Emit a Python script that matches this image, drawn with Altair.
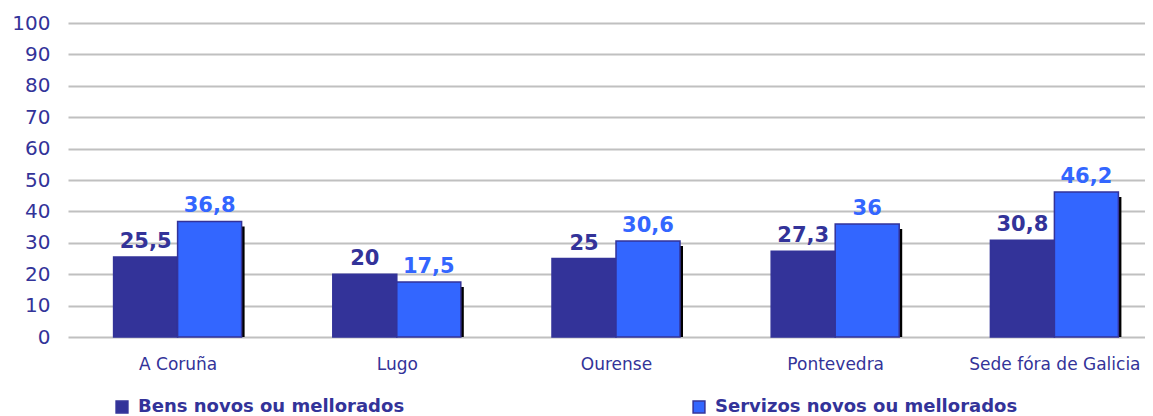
import altair as alt
import pandas as pd

cities = ["A Coruña", "Lugo", "Ourense", "Pontevedra", "Sede fóra de Galicia"]
series = ["Bens novos ou mellorados", "Servizos novos ou mellorados"]
bens = [25.5, 20, 25, 27.3, 30.8]
servizos = [36.8, 17.5, 30.6, 36, 46.2]
y_ticks = [0, 10, 20, 30, 40, 50, 60, 70, 80, 90, 100]
city_pos = [0.5, 1.5, 2.5, 3.5, 4.5]
bar_w = 0.292

DARK = "#333399"
BLUE = "#3366FF"

rows = []
for i, c in enumerate(cities):
    for j, (s, vals) in enumerate(zip(series, [bens, servizos])):
        v = vals[i]
        x0 = city_pos[i] - bar_w + j * bar_w
        rows.append({"city": c, "series": s, "value": v,
                     "x0": x0, "x1": x0 + bar_w, "xc": x0 + bar_w / 2,
                     "label": (f"{v:g}").replace(".", ",")})
df = pd.DataFrame(rows)

label_expr = " : ".join(
    [f"datum.value == {p} ? '{c}'" for p, c in zip(city_pos, cities)]) + " : ''"

xs = alt.Scale(domain=[0, 5], range=[0, 1096], nice=False, zero=False)
x_enc = alt.X("x0:Q", scale=xs, title=None,
              axis=alt.Axis(values=city_pos, labelExpr=label_expr, grid=False,
                            labelFont="DejaVu Sans", labelFontSize=17, labelColor=DARK,
                            ticks=False, domain=False, labelPadding=19, labelFlush=False,
                            labelOverlap=False))
y_enc = alt.Y("value:Q", title=None,
              scale=alt.Scale(domain=[0, 100], nice=False),
              axis=alt.Axis(values=y_ticks, labelFont="DejaVu Sans", labelFontSize=20,
                            labelColor=DARK, ticks=False, domain=False, labelPadding=18,
                            gridColor="#c0c0c0", gridWidth=2))
cscale = alt.Scale(domain=series, range=[DARK, BLUE])
color_enc = alt.Color("series:N", sort=series, scale=cscale,
                      legend=alt.Legend(title=None, orient="none", legendX=45, legendY=375,
                                        direction="horizontal", columns=2, columnPadding=285,
                                        symbolType="square", symbolSize=140,
                                        symbolStrokeColor=DARK, symbolStrokeWidth=1.5,
                                        labelFont="DejaVu Sans", labelFontWeight="bold",
                                        labelFontSize=18, labelColor=DARK, labelOffset=7,
                                        labelLimit=400))

base = alt.Chart(df)

shadow = base.transform_filter(alt.datum.series == series[1]).mark_rect(
    color="black", xOffset=3, x2Offset=3, yOffset=5
).encode(x=x_enc, x2="x1:Q", y=y_enc, y2=alt.datum(0))

bars = base.mark_rect(stroke=DARK, strokeWidth=1.5).encode(
    x=x_enc, x2="x1:Q", y=y_enc, y2=alt.datum(0), color=color_enc)

text = base.mark_text(baseline="bottom", dy=-5, font="DejaVu Sans",
                      fontWeight="bold", fontSize=21).encode(
    x=alt.X("xc:Q", scale=xs), y=y_enc, text="label:N",
    color=alt.Color("series:N", scale=cscale, legend=None))

chart = alt.layer(shadow, bars, text).properties(
    width=1077, height=314,
    autosize=alt.AutoSizeParams(type="none"),
    padding={"left": 60, "top": 15, "right": 0, "bottom": 80},
    background="white",
).configure_view(stroke=None)

chart.save("out.html", embed_options={"renderer": "svg", "actions": False})
